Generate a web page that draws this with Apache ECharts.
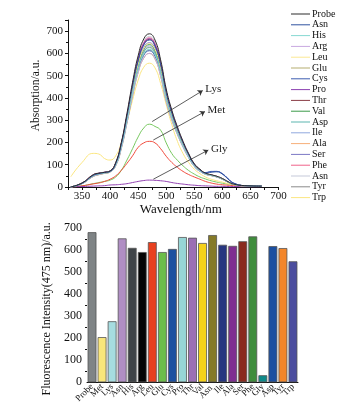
<!DOCTYPE html>
<html><head><meta charset="utf-8">
<script src="https://cdn.jsdelivr.net/npm/echarts@6/dist/echarts.min.js"></script>
<style>html,body{margin:0;padding:0;background:#fff}#c{width:352px;height:416px}</style>
</head><body><div id="c"></div>
<script>
// ---------- Top chart data ----------
const wavelengths = [330,350,370,380,390,400,410,420,430,440,450,460,470,480,490,500,510,520,530,540,550,560,570,580,590,600,610,620,640,670];
const absProbe = [0,18,55,62,66,72,110,200,330,470,590,665,688,660,571,440,345,270,205,150,105,80,62,55,48,38,24,13,6,4];
const absAsn   = [0,17,52,60,65,70,105,192,317,451,566,638,660,633,548,422,331,259,197,144,101,77,63,66,68,58,36,17,6,4];
const absHis   = [0,16,50,58,63,69,99,180,296,422,530,597,618,593,513,395,310,242,184,135,94,72,58,52,46,36,23,12,6,4];
const absArg   = [0,15,48,56,62,68,96,174,288,410,515,580,600,576,498,384,301,235,179,131,92,70,57,51,45,35,22,12,5,4];
const absLeu   = [0,17,53,60,65,71,103,187,309,440,552,622,644,618,534,412,323,253,192,140,98,75,60,53,47,37,23,12,6,4];
const absGlu   = [0,15,47,55,61,67,95,172,286,409,514,579,600,575,497,383,300,236,180,132,93,71,57,51,45,35,22,12,5,4];
const absCys   = [0,16,50,59,64,70,98,178,294,418,525,592,612,587,508,392,307,240,182,134,93,71,65,70,70,60,38,18,6,4];
const absPro   = [0,17,54,61,66,72,106,194,319,455,571,644,666,639,553,426,334,261,198,145,102,77,61,54,48,37,24,13,6,4];
const absThr   = [0,17,53,61,65,71,106,193,318,453,569,641,663,636,550,424,333,260,198,145,101,77,61,54,47,37,23,12,6,4];
const absVal   = [0,16,51,59,64,70,102,186,307,437,549,618,640,614,531,409,321,251,191,140,98,74,60,53,46,36,23,12,6,4];
const absAsp   = [0,16,50,58,63,69,100,182,300,428,537,605,626,601,520,400,314,246,187,137,96,73,59,52,46,36,23,12,5,4];
const absIle   = [0,17,52,60,65,70,101,184,304,433,544,613,634,609,526,406,318,249,189,138,97,74,60,53,46,36,23,12,6,4];
const absAla   = [0,16,49,57,63,69,100,183,301,429,539,607,628,603,521,402,315,247,187,137,96,73,59,52,46,36,23,12,5,4];
const absSer   = [0,17,54,62,66,72,104,188,311,443,556,626,648,622,538,414,325,254,193,141,99,75,64,69,70,59,37,17,6,4];
const absPhe   = [0,18,55,62,66,72,107,195,321,458,575,648,670,643,556,429,336,263,200,146,102,78,61,54,48,37,24,13,6,4];
const absAsn2  = [0,18,56,63,67,73,108,197,324,462,580,654,676,649,561,433,339,265,202,147,103,79,62,55,48,38,24,13,6,4];
const absTyr   = [0,15,48,56,62,68,98,179,295,421,528,595,616,591,511,394,309,242,183,134,94,72,58,52,45,35,22,12,5,4];
const absTrp   = [46,110,151,148,128,121,140,200,290,390,480,538,556,535,465,370,280,205,150,110,80,60,45,35,28,22,15,10,6,3];
const absLys   = [0,5,15,20,25,31,45,75,121,172,225,265,282,272,255,198,150,120,95,74,58,45,36,28,22,17,13,10,6,3];
const absMet   = [0,5,14,18,25,35,50,75,106,140,178,198,205,198,172,138,110,88,70,56,45,35,25,18,13,10,8,6,4,2];
const absGly   = [0,2,4,5,6,9,10,12,15,20,25,29,31,30,28,25,20,16,13,10,8,6,5,4,3,3,2,2,1,1];

const legendNames = ['Probe','Asn','His','Arg','Leu','Glu','Cys','Pro','Thr','Val','Asp','Ile','Ala','Ser','Phe','Asn ','Tyr','Trp'];
const legendSeries = [absProbe,absAsn,absHis,absArg,absLeu,absGlu,absCys,absPro,absThr,absVal,absAsp,absIle,absAla,absSer,absPhe,absAsn2,absTyr,absTrp];
const legendColors = ['#2b2b2b','#2f52a0','#86d8d2','#c8a8e0','#fbe893','#b5ad6e','#3c5cb0','#8b3fb0','#8a3c44','#3a9a48','#5ab5ae','#90a8de','#f7ae78','#7b78c4','#f0628a','#c5c8d8','#8a8a8a','#fbe680'];

const yTicksTop = [0,100,200,300,400,500,600,700];
const xTicksTop = [350,400,450,500,550,600,650,700];

// ---------- Bottom chart data ----------
const barCategories = ['Probe','Met','Lys','Asn','His','Arg','Leu','Glu','Cys','Pro','Thr','Val','Asn ','Ile','Ala','Ser','Phe','Gly','Asp','Tyr','Trp'];
const barValues = [681,205,277,653,610,591,636,591,605,659,656,632,668,624,619,640,662,32,618,609,549];
const barColors = ['#7f8486','#f9e67a','#a6dce0','#b08ec4','#3f4448','#050505','#e8401f','#6cbd4a','#1c4fa0','#97d6d6','#9b6fb4','#f6d21a','#857a28','#27367f','#7f2e91','#8a2a1e','#3f8d3c','#0f8a8a','#1b4fa0','#f3862a','#4b4d9e'];

const serif = 'Liberation Serif';
const zip = arr => wavelengths.map((w,i)=>[w,arr[i]]);

const series = [];
legendNames.forEach((n,i)=>{
  series.push({type:'line',name:n,xAxisIndex:0,yAxisIndex:0,data:zip(legendSeries[i]),smooth:true,showSymbol:false,symbol:'none',
    lineStyle:{width:1,color:legendColors[i]},itemStyle:{color:legendColors[i]},z:3+(18-i)*0.01});
});
const arrowStyle = {color:'#333',width:0.8,type:'solid'};
const lbl = t => ({show:true,formatter:t,position:'end',color:'#222',fontFamily:serif,fontSize:11,distance:3});
series.push({type:'line',name:'Lys',data:zip(absLys),smooth:true,showSymbol:false,symbol:'none',lineStyle:{width:1,color:'#78c860'}});
series.push({type:'line',name:'Met',data:zip(absMet),smooth:true,showSymbol:false,symbol:'none',lineStyle:{width:1,color:'#f04a3c'}});
series.push({type:'line',name:'Gly',data:zip(absGly),smooth:true,showSymbol:false,symbol:'none',lineStyle:{width:1,color:'#9040b0'},
  markLine:{silent:true,symbol:['none','arrow'],symbolSize:5,animation:false,lineStyle:arrowStyle,
    data:[
      [{coord:[475,294]},{coord:[565,433],label:lbl('Lys')}],
      [{coord:[477,211]},{coord:[569,339],label:lbl('Met')}],
      [{coord:[477,35]},{coord:[575,166],label:lbl('Gly')}]
    ]}});
series.push({type:'bar',xAxisIndex:1,yAxisIndex:1,data:barValues.map((v,i)=>({value:v,itemStyle:{color:barColors[i]}})),
  barCategoryGap:'12%',itemStyle:{borderColor:'#555',borderWidth:0.8}});

const axisCommon = {axisLine:{lineStyle:{color:'#111',width:1}},axisTick:{lineStyle:{color:'#111'}},splitLine:{show:false},
  axisLabel:{color:'#111',fontFamily:serif},nameMoveOverlap:false};

const chart = echarts.init(document.getElementById('c'));
chart.setOption({
  animation:false,
  backgroundColor:'#fff',
  legend:{data:legendNames,orient:'vertical',left:286,top:4,itemWidth:19,itemHeight:8,itemGap:0.8,
    textStyle:{fontFamily:serif,fontSize:10,color:'#111',lineHeight:10,padding:[0,0,0,-3]},selectedMode:false,icon:'path://M0,4L19,4L19,5L0,5Z'},
  grid:[{left:68,top:20,width:210.5,height:167},{left:87,top:220.3,width:211,height:162}],
  xAxis:[
    Object.assign({},axisCommon,{type:'value',gridIndex:0,min:325,max:700,interval:25,
      axisTick:{length:3,lineStyle:{color:'#111'}},
      axisLabel:{color:'#111',fontFamily:serif,fontSize:11,margin:4,formatter:v=>xTicksTop.includes(v)?String(v):''},
      name:'Wavelength/nm',nameLocation:'middle',nameGap:16,nameTextStyle:{fontFamily:serif,fontSize:13,color:'#111',padding:[0,0,0,15]}}),
    Object.assign({},axisCommon,{type:'category',gridIndex:1,data:barCategories,
      axisTick:{length:3,alignWithLabel:true,lineStyle:{color:'#111'}},
      axisLabel:{color:'#111',fontFamily:serif,fontSize:9,rotate:45,interval:0,margin:3}})
  ],
  yAxis:[
    Object.assign({},axisCommon,{type:'value',gridIndex:0,min:0,max:750,interval:100,
      axisTick:{length:3,lineStyle:{color:'#111'}},minorTick:{show:true,splitNumber:2,length:2,lineStyle:{color:'#111'}},
      axisLabel:{color:'#111',fontFamily:serif,fontSize:11,margin:5,formatter:v=>yTicksTop.includes(v)?String(v):''},
      name:'Absorption/a.u.',nameLocation:'middle',nameGap:26,nameTextStyle:{fontFamily:serif,fontSize:11.5,color:'#111',padding:[0,0,0,16]}}),
    Object.assign({},axisCommon,{type:'value',gridIndex:1,min:0,max:735,interval:100,
      axisTick:{length:3,lineStyle:{color:'#111'}},minorTick:{show:true,splitNumber:2,length:2,lineStyle:{color:'#111'}},
      axisLabel:{color:'#111',fontFamily:serif,fontSize:12,margin:5,formatter:v=>yTicksTop.includes(v)?String(v):''},
      name:'Fluorescence Intensity(475 nm)/a.u.',nameLocation:'middle',nameGap:34,nameTextStyle:{fontFamily:serif,fontSize:12,color:'#111',padding:[0,15,0,0]}})
  ],
  series:series
});
</script></body></html>
